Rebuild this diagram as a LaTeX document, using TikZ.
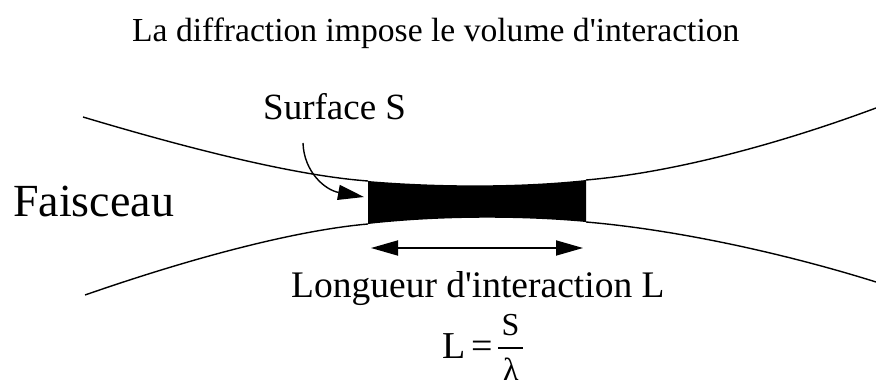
\documentclass[tikz,border=0pt]{standalone}
\usepackage{fontspec}
\setmainfont{Liberation Serif}
\usetikzlibrary{arrows.meta}
\begin{document}
\begin{tikzpicture}[x=1pt,y=-1pt,
  beam/.style={line width=1.4pt},
  tip/.style={-{Triangle[length=26pt,width=15pt]}},
  lbl/.style={inner sep=0pt,anchor=base west},
  fml/.style={inner sep=0pt,anchor=base}]
\useasboundingbox (0,0) rectangle (876,390);
% title
\node[lbl] (title) at (132,42) {\fontsize{33.6}{40}\selectfont La diffraction impose le volume d\textquotesingle interaction};
% beam
\draw[beam] (83,117) .. controls (200,152) and (300,176) .. (368,181);
\draw[beam] (586,180) .. controls (680,172) and (790,140) .. (876,108);
\draw[beam] (85,295) .. controls (200,255) and (300,230) .. (368,224);
\draw[beam] (586,222) .. controls (680,230) and (790,255) .. (876,282);
% interaction volume
\fill[black] (368,181) .. controls (440,187) and (520,187) .. (586,180)
  -- (586,222) .. controls (520,216) and (440,216) .. (368,224) -- cycle;
% labels
\node[lbl] (fais) at (13,217) {\fontsize{46}{55}\selectfont Faisceau};
\node[lbl] (surf) at (263,120) {\fontsize{37}{44}\selectfont Surface S};
\node[lbl] (long) at (291,298) {\fontsize{37.5}{45}\selectfont Longueur d\textquotesingle interaction L};
% formula L = S / lambda
\node[lbl] (fl) at (442,358) {\fontsize{38}{45}\selectfont L\,=};
\coordinate (fba) at (498,348);
\coordinate (fbb) at (523,348);
\draw[line width=1.6pt] (fba) -- (fbb);
\node[fml] (fs) at (510.5,335) {\fontsize{32}{38}\selectfont S};
\node[fml] (fla) at (511,380) {\fontsize{32}{38}\selectfont λ};
% arrows
\coordinate (sa) at (303,143);
\coordinate (sb) at (364,197);
\draw[line width=1.4pt,tip] (sa) .. controls (304,172) and (325,190) .. (sb);
\coordinate (la) at (371,248);
\coordinate (lb) at (583,248);
\draw[line width=1.8pt,{Triangle[length=27pt,width=15pt]}-{Triangle[length=27pt,width=15pt]}] (la) -- (lb);
\end{tikzpicture}
\end{document}
